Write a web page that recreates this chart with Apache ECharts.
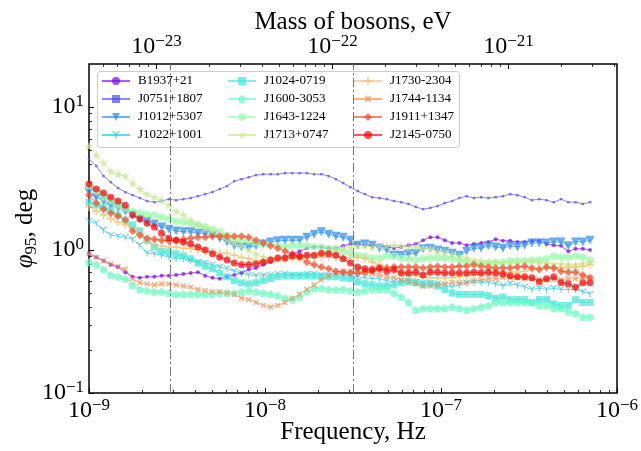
<!DOCTYPE html>
<html>
<head>
<meta charset="UTF-8">
<title>phi95 vs frequency</title>
<script src="https://cdn.jsdelivr.net/npm/echarts@6/dist/echarts.min.js"></script>
<style>
    html, body { margin: 0; padding: 0; background: #fff; }
    #main { width: 641px; height: 451px; }
</style>
</head>
<body>
<div id="main"></div>
<script>
    // frequency grid, in nHz
    var freqNHz = [1.000, 1.100, 1.209, 1.330, 1.462, 1.608, 1.768, 1.945, 2.138, 2.351,
        2.586, 2.843, 3.127, 3.439, 3.781, 4.158, 4.573, 5.028, 5.530, 6.081,
        6.687, 7.354, 8.087, 8.892, 9.778, 10.75, 11.82, 13.00, 14.30, 15.72,
        17.29, 19.01, 20.91, 22.99, 25.28, 27.80, 30.57, 33.62, 36.97, 40.65,
        44.71, 49.16, 54.06, 59.45, 65.37, 71.89, 79.05, 86.93, 95.60, 105.1,
        115.6, 127.1, 139.8, 153.7, 169.0, 185.9, 204.4, 224.8, 247.2, 271.8,
        298.9, 328.7, 361.5, 397.5, 437.1, 480.7, 528.6, 581.3, 639.2, 703.0];

    var names = ['B1937+21', 'J0751+1807', 'J1012+5307', 'J1022+1001',
        'J1024-0719', 'J1600-3053', 'J1643-1224', 'J1713+0747',
        'J1730-2304', 'J1744-1134', 'J1911+1347', 'J2145-0750'];

    // phi_95 in degrees, one array per pulsar
    var phiB1937 = [0.94, 0.89, 0.84, 0.79, 0.76, 0.70, 0.65, 0.64, 0.65, 0.65,
        0.66, 0.66, 0.67, 0.68, 0.69, 0.70, 0.66, 0.64, 0.63, 0.65,
        0.67, 0.69, 0.73, 0.75, 0.79, 0.82, 0.87, 0.89, 0.94, 0.98,
        1.03, 1.05, 1.05, 1.03, 1.03, 1.07, 1.10, 1.10, 1.08, 1.07,
        1.07, 1.05, 1.03, 1.05, 1.08, 1.10, 1.17, 1.23, 1.23, 1.17,
        1.12, 1.12, 1.08, 1.10, 1.12, 1.14, 1.19, 1.16, 1.16, 1.14,
        1.14, 1.16, 1.16, 1.10, 1.08, 1.07, 0.98, 1.02, 1.02, 1.00];
    var phiJ0751 = [4.34, 3.87, 3.29, 2.98, 2.71, 2.54, 2.42, 2.31, 2.20, 2.16,
        2.20, 2.27, 2.23, 2.27, 2.31, 2.38, 2.46, 2.54, 2.67, 2.80,
        3.03, 3.13, 3.23, 3.34, 3.39, 3.39, 3.39, 3.45, 3.45, 3.45,
        3.45, 3.39, 3.39, 3.29, 3.13, 2.94, 2.75, 2.58, 2.46, 2.34,
        2.31, 2.27, 2.20, 2.16, 2.10, 2.00, 1.93, 1.97, 2.03, 2.13,
        2.20, 2.31, 2.38, 2.31, 2.34, 2.31, 2.34, 2.38, 2.46, 2.42,
        2.34, 2.23, 2.27, 2.23, 2.16, 2.27, 2.16, 2.16, 2.10, 2.16];
    var phiJ1012 = [2.54, 2.34, 2.20, 2.06, 1.97, 1.87, 1.76, 1.65, 1.59, 1.52,
        1.45, 1.40, 1.36, 1.34, 1.34, 1.31, 1.31, 1.27, 1.21, 1.14,
        1.07, 1.05, 1.05, 1.07, 1.10, 1.14, 1.16, 1.17, 1.17, 1.17,
        1.23, 1.29, 1.34, 1.29, 1.25, 1.23, 1.17, 1.08, 1.10, 1.08,
        1.03, 1.00, 0.92, 0.92, 0.94, 0.95, 1.02, 1.03, 1.00, 0.98,
        0.95, 0.92, 0.98, 1.03, 1.03, 1.07, 1.05, 1.03, 1.07, 1.05,
        1.08, 1.12, 1.12, 1.12, 1.14, 1.14, 1.07, 1.14, 1.14, 1.17];
    var phiJ1022 = [1.59, 1.54, 1.38, 1.27, 1.25, 1.23, 1.19, 1.08, 0.95, 0.94,
        0.92, 0.89, 0.87, 0.87, 0.84, 0.82, 0.81, 0.79, 0.76, 0.74,
        0.71, 0.69, 0.67, 0.66, 0.66, 0.67, 0.68, 0.68, 0.67, 0.67,
        0.68, 0.68, 0.67, 0.67, 0.68, 0.68, 0.66, 0.65, 0.64, 0.63,
        0.63, 0.61, 0.60, 0.61, 0.62, 0.60, 0.59, 0.59, 0.58, 0.57,
        0.55, 0.57, 0.59, 0.59, 0.59, 0.59, 0.58, 0.56, 0.58, 0.57,
        0.55, 0.53, 0.54, 0.53, 0.54, 0.53, 0.53, 0.53, 0.51, 0.49];
    var phiJ1024 = [2.16, 2.06, 2.00, 1.90, 1.76, 1.62, 1.50, 1.36, 1.17, 1.05,
        0.98, 0.97, 0.94, 0.91, 0.87, 0.81, 0.77, 0.74, 0.69, 0.65,
        0.61, 0.59, 0.58, 0.59, 0.61, 0.63, 0.65, 0.66, 0.66, 0.66,
        0.66, 0.66, 0.65, 0.65, 0.65, 0.64, 0.63, 0.60, 0.58, 0.57,
        0.56, 0.56, 0.57, 0.59, 0.60, 0.59, 0.57, 0.58, 0.56, 0.53,
        0.50, 0.49, 0.49, 0.49, 0.49, 0.48, 0.46, 0.47, 0.45, 0.45,
        0.45, 0.43, 0.45, 0.45, 0.42, 0.41, 0.41, 0.45, 0.43, 0.43];
    var phiJ1600 = [0.82, 0.79, 0.73, 0.67, 0.65, 0.63, 0.57, 0.53, 0.52, 0.51,
        0.51, 0.50, 0.49, 0.49, 0.49, 0.49, 0.49, 0.49, 0.50, 0.50,
        0.50, 0.51, 0.52, 0.51, 0.50, 0.49, 0.48, 0.46, 0.45, 0.47,
        0.51, 0.54, 0.54, 0.53, 0.53, 0.53, 0.52, 0.51, 0.52, 0.53,
        0.53, 0.53, 0.50, 0.47, 0.43, 0.38, 0.39, 0.39, 0.39, 0.39,
        0.40, 0.39, 0.38, 0.39, 0.40, 0.41, 0.43, 0.43, 0.43, 0.43,
        0.43, 0.43, 0.41, 0.41, 0.39, 0.39, 0.37, 0.36, 0.34, 0.34];
    var phiJ1643 = [2.80, 2.58, 2.34, 2.20, 2.06, 1.97, 1.87, 1.81, 1.78, 1.76,
        1.70, 1.65, 1.59, 1.57, 1.54, 1.50, 1.45, 1.40, 1.34, 1.27,
        1.21, 1.17, 1.16, 1.12, 1.10, 1.08, 1.07, 1.05, 1.07, 1.07,
        1.07, 1.05, 1.05, 1.03, 1.02, 0.98, 0.95, 0.92, 0.91, 0.88,
        0.88, 0.91, 0.91, 0.88, 0.87, 0.85, 0.87, 0.88, 0.88, 0.88,
        0.87, 0.85, 0.82, 0.80, 0.80, 0.81, 0.82, 0.82, 0.84, 0.84,
        0.84, 0.85, 0.85, 0.87, 0.91, 0.89, 0.89, 0.91, 0.89, 0.85];
    var phiJ1713 = [5.33, 4.62, 4.07, 3.56, 3.39, 3.29, 2.94, 2.67, 2.46, 2.34,
        2.23, 2.06, 1.87, 1.76, 1.62, 1.50, 1.42, 1.36, 1.27, 1.19,
        1.12, 1.07, 1.00, 0.94, 0.89, 0.88, 0.87, 0.88, 0.89, 0.89,
        0.91, 0.92, 0.94, 0.97, 1.00, 1.03, 1.05, 1.07, 1.07, 1.05,
        1.07, 1.07, 1.08, 1.07, 1.05, 1.05, 1.03, 1.02, 0.98, 0.97,
        0.94, 0.91, 0.88, 0.85, 0.84, 0.82, 0.82, 0.81, 0.82, 0.81,
        0.82, 0.84, 0.82, 0.81, 0.80, 0.80, 0.79, 0.79, 0.80, 0.82];
    var phiJ1730 = [2.00, 1.87, 1.76, 1.65, 1.57, 1.50, 1.40, 1.29, 1.16, 1.08,
        1.07, 1.05, 1.05, 1.03, 1.02, 1.00, 0.98, 0.97, 0.95, 0.95,
        0.92, 0.89, 0.87, 0.84, 0.84, 0.85, 0.87, 0.88, 0.88, 0.89,
        0.89, 0.89, 0.89, 0.89, 0.89, 0.88, 0.88, 0.89, 0.87, 0.82,
        0.79, 0.75, 0.71, 0.69, 0.67, 0.66, 0.65, 0.64, 0.64, 0.64,
        0.64, 0.65, 0.66, 0.67, 0.68, 0.69, 0.69, 0.69, 0.70, 0.70,
        0.71, 0.73, 0.74, 0.75, 0.75, 0.75, 0.76, 0.76, 0.77, 0.79];
    var phiJ1744 = [0.94, 0.89, 0.84, 0.80, 0.77, 0.73, 0.63, 0.59, 0.58, 0.57,
        0.58, 0.58, 0.57, 0.56, 0.55, 0.53, 0.52, 0.51, 0.51, 0.50,
        0.49, 0.46, 0.45, 0.43, 0.41, 0.40, 0.41, 0.43, 0.46, 0.49,
        0.53, 0.57, 0.62, 0.66, 0.69, 0.71, 0.71, 0.71, 0.70, 0.69,
        0.67, 0.65, 0.64, 0.62, 0.60, 0.58, 0.56, 0.56, 0.57, 0.58,
        0.59, 0.59, 0.59, 0.61, 0.62, 0.63, 0.63, 0.64, 0.64, 0.64,
        0.63, 0.63, 0.62, 0.62, 0.62, 0.62, 0.63, 0.63, 0.64, 0.64];
    var phiJ1911 = [2.42, 2.13, 1.93, 1.81, 1.73, 1.62, 1.36, 1.27, 1.21, 1.19,
        1.17, 1.16, 1.17, 1.19, 1.21, 1.23, 1.23, 1.25, 1.25, 1.25,
        1.25, 1.25, 1.23, 1.17, 1.12, 1.07, 1.03, 0.98, 0.94, 0.89,
        0.82, 0.79, 0.76, 0.74, 0.71, 0.70, 0.69, 0.69, 0.70, 0.71,
        0.73, 0.75, 0.76, 0.76, 0.76, 0.76, 0.75, 0.76, 0.77, 0.76,
        0.76, 0.77, 0.77, 0.79, 0.77, 0.76, 0.75, 0.75, 0.75, 0.76,
        0.77, 0.75, 0.73, 0.76, 0.75, 0.71, 0.70, 0.70, 0.67, 0.64];
    var phiJ2145 = [2.89, 2.67, 2.50, 2.34, 2.20, 2.06, 1.76, 1.65, 1.54, 1.45,
        1.31, 1.21, 1.17, 1.14, 1.10, 1.05, 1.00, 0.94, 0.89, 0.85,
        0.81, 0.79, 0.79, 0.80, 0.82, 0.85, 0.88, 0.88, 0.91, 0.91,
        0.92, 0.92, 0.95, 0.94, 0.92, 0.87, 0.81, 0.76, 0.74, 0.73,
        0.75, 0.71, 0.73, 0.69, 0.69, 0.70, 0.67, 0.70, 0.70, 0.69,
        0.69, 0.69, 0.69, 0.70, 0.69, 0.70, 0.69, 0.68, 0.66, 0.65,
        0.65, 0.64, 0.60, 0.63, 0.65, 0.59, 0.58, 0.55, 0.59, 0.59];

    var phiAll = [phiB1937, phiJ0751, phiJ1012, phiJ1022, phiJ1024, phiJ1600,
        phiJ1643, phiJ1713, phiJ1730, phiJ1744, phiJ1911, phiJ2145];

    // dash-dot reference frequencies (nHz)
    var refFreqNHz = [2.9, 31.7];

    // axis ranges (x in nHz, top axis in units of 1e-24 eV) and major ticks
    var H_EV = 4.135667696e-15;     // m = h f
    var fMin = 1, fMax = 1000;      // nHz
    var yMin = 0.1, yMax = 20;
    var xMajor = [1, 10, 100, 1000];
    var yMajor = [0.1, 1, 10];
    var massMajor = [10, 100, 1000]; // 1e-23, 1e-22, 1e-21 eV
    var massMin = H_EV * fMin * 1e-9 / 1e-24;
    var massMax = H_EV * fMax * 1e-9 / 1e-24;

    var colors = ['rgb(128,0,255)', 'rgb(81,72,252)', 'rgb(35,138,245)', 'rgb(12,193,232)',
        'rgb(58,232,215)', 'rgb(104,252,193)', 'rgb(151,252,167)', 'rgb(197,232,138)',
        'rgb(243,193,106)', 'rgb(255,138,72)', 'rgb(255,72,36)', 'rgb(255,0,0)'];

    var PENTA = 'path://M5,0 L9.76,3.45 L7.94,9.05 L2.06,9.05 L0.24,3.45 Z';
    var HEXA = 'path://M5,0 L9.33,2.5 L9.33,7.5 L5,10 L0.67,7.5 L0.67,2.5 Z';
    var STAR = 'path://M5,0 L6.18,3.38 L9.76,3.45 L6.9,5.62 L7.94,9.05 L5,7 L2.06,9.05 L3.1,5.62 L0.24,3.45 L3.82,3.38 Z';
    var PLUS = 'path://M4,0 L6,0 L6,4 L10,4 L10,6 L6,6 L6,10 L4,10 L4,6 L0,6 L0,4 L4,4 Z';
    var TRI1 = 'path://M4.4,10 L5.6,10 L5.6,5.3 L9.6,3 L9,2 L5,4.3 L1,2 L0.4,3 L4.4,5.3 Z';

    var markers = ['circle', 'rect', 'triangle', TRI1, 'rect', PENTA, HEXA, STAR, PLUS, PLUS, 'diamond', 'circle'];
    var markerSizes = [4, 2.5, 9, 7, 7, 8, 8, 9, 8, 7, 8, 7];
    var markerRotate = [0, 0, 180, 0, 0, 0, 0, 0, 0, 45, 0, 0];

    var serif = 'Liberation Serif, Times New Roman, serif';

    function sitInside(v, lo, hi) {
        return Math.min(Math.max(v, lo * (1 + 1e-9)), hi * (1 - 1e-9));
    }
    function minorTicks(lo, hi) {
        var out = [];
        for (var e = Math.floor(Math.log10(lo)); e < Math.ceil(Math.log10(hi)); e++) {
            for (var k = 2; k <= 9; k++) {
                var v = k * Math.pow(10, e);
                if (v > lo && v < hi) out.push(v);
            }
        }
        return out;
    }
    function powLabel(offset) {
        return function (v) {
            var e = Math.round(Math.log10(v)) + offset;
            return '{b|10}{s|' + (e < 0 ? '\u2212' : '') + Math.abs(e) + '}';
        };
    }
    var tickRich = {
        b: { fontFamily: serif, fontSize: 24, lineHeight: 28, color: '#000', verticalAlign: 'middle' },
        s: { fontFamily: serif, fontSize: 17, lineHeight: 17, color: '#000', verticalAlign: 'top' }
    };

    function majorAxis(lo, hi, majors, pos, offset, margin, extra) {
        var vals = majors.map(function (v) { return sitInside(v, lo, hi); });
        var ax = {
            type: 'log', logBase: 10, min: lo, max: hi, position: pos,
            axisLine: { show: false, onZero: false },
            axisTick: { show: true, inside: true, length: 5, customValues: vals,
                lineStyle: { color: '#000', width: 1 } },
            axisLabel: { show: true, customValues: vals, formatter: powLabel(offset),
                rich: tickRich, margin: margin },
            splitLine: { show: false },
            nameMoveOverlap: false
        };
        for (var k in extra) ax[k] = extra[k];
        return ax;
    }
    function minorAxis(lo, hi, pos) {
        return {
            type: 'log', logBase: 10, min: lo, max: hi, position: pos,
            axisLine: { show: false, onZero: false },
            axisTick: { show: true, inside: true, length: 3, customValues: minorTicks(lo, hi),
                lineStyle: { color: '#000', width: 0.8 } },
            axisLabel: { show: false },
            splitLine: { show: false }
        };
    }

    var myChart = echarts.init(document.getElementById('main'));

    var series = names.map(function (name, i) {
        return {
            name: name,
            type: 'line',
            xAxisIndex: 0,
            yAxisIndex: 0,
            data: freqNHz.map(function (f, j) { return [f, phiAll[i][j]]; }),
            symbol: markers[i],
            symbolSize: markerSizes[i],
            symbolRotate: markerRotate[i],
            showAllSymbol: true,
            lineStyle: { width: 1, color: colors[i], opacity: 0.65 },
            itemStyle: { color: colors[i], opacity: 0.7 },
            emphasis: { disabled: true },
            silent: true
        };
    });
    series[0].markLine = {
        silent: true,
        symbol: 'none',
        label: { show: false },
        lineStyle: { color: '#777', width: 1, type: [9, 3, 2, 3], opacity: 1 },
        data: refFreqNHz.map(function (f) { return { xAxis: f }; })
    };

    var legendX = [101, 227, 353];

    var option = {
        animation: false,
        backgroundColor: '#fff',
        grid: {
            left: 89, right: 24, top: 64, bottom: 58,
            outerBoundsMode: 'none',
            containLabel: false,
            show: true, borderColor: '#000', borderWidth: 1.5, backgroundColor: 'transparent'
        },
        graphic: [{
            type: 'rect', left: 97, top: 71, z: 5,
            shape: { width: 362, height: 76, r: 3 },
            style: { fill: 'rgba(255,255,255,0.8)', stroke: '#cccccc', lineWidth: 1 }
        }],
        legend: legendX.map(function (x, c) {
            return {
                data: names.slice(c * 4, c * 4 + 4),
                orient: 'vertical',
                left: x, top: 74,
                padding: 0,
                itemWidth: 28, itemHeight: 10, itemGap: 4,
                selectedMode: false,
                z: 10,
                textStyle: { fontFamily: serif, fontSize: 13, lineHeight: 14, color: '#000', padding: [0, 0, 0, 3] }
            };
        }),
        xAxis: [
            majorAxis(fMin, fMax, xMajor, 'bottom', -9, 4, {
                name: 'Frequency, Hz', nameLocation: 'middle', nameGap: 27,
                nameTextStyle: { fontFamily: serif, fontSize: 25, color: '#000' }
            }),
            minorAxis(fMin, fMax, 'bottom'),
            majorAxis(massMin, massMax, massMajor, 'top', -24, 3, {
                name: 'Mass of bosons, eV', nameLocation: 'middle', nameGap: 29,
                nameTextStyle: { fontFamily: serif, fontSize: 25, color: '#000' }
            }),
            minorAxis(massMin, massMax, 'top')
        ],
        yAxis: [
            majorAxis(yMin, yMax, yMajor, 'left', 0, 5, {
                name: '{p|\u03c6}{sub|95}{n|, deg}',
                nameLocation: 'middle', nameGap: 49, nameRotate: 90,
                nameTextStyle: {
                    rich: {
                        p: { fontFamily: serif, fontStyle: 'italic', fontSize: 25, lineHeight: 30, color: '#000' },
                        sub: { fontFamily: serif, fontSize: 17, lineHeight: 17, verticalAlign: 'bottom', color: '#000' },
                        n: { fontFamily: serif, fontSize: 25, lineHeight: 30, color: '#000' }
                    }
                }
            }),
            minorAxis(yMin, yMax, 'left')
        ],
        series: series
    };

    myChart.setOption(option);
</script>
</body>
</html>
